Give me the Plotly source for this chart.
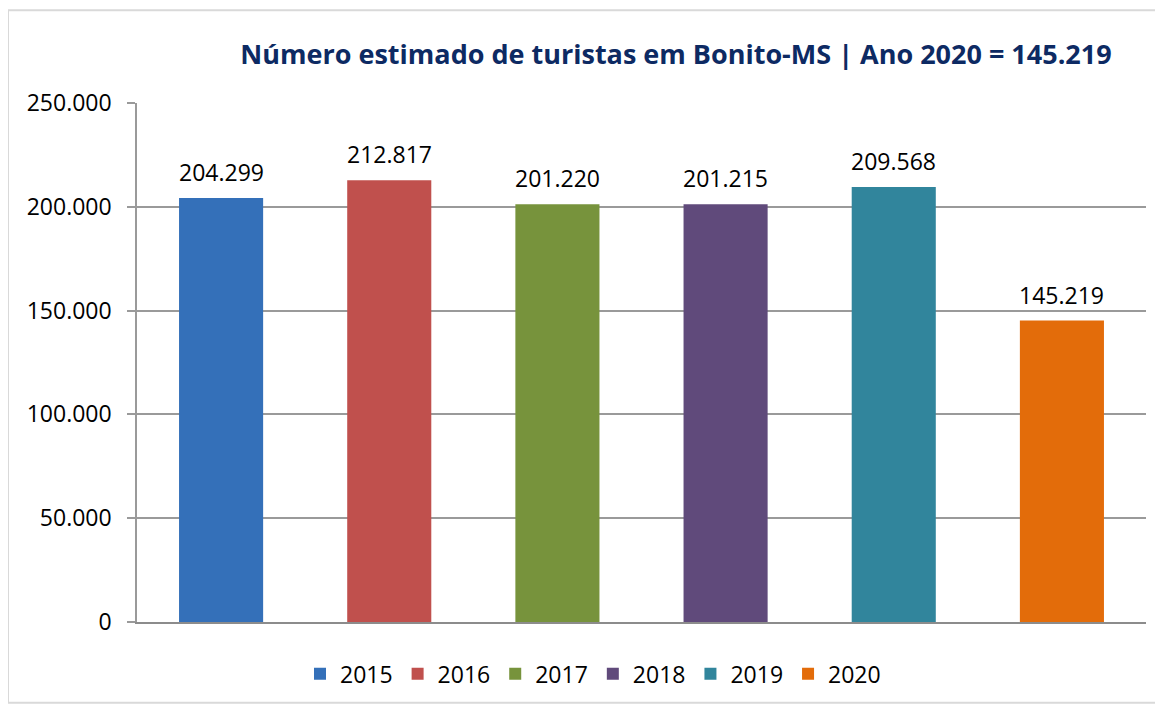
import plotly.graph_objects as go

years = ["2015", "2016", "2017", "2018", "2019", "2020"]
tourists = [204299, 212817, 201220, 201215, 209568, 145219]
colors = ["#3470b9", "#c0504d", "#77933c", "#604a7b", "#31859c", "#e36c0a"]
title_text = "Número estimado de turistas em Bonito-MS | Ano 2020 = 145.219"
tick_vals = [0, 50000, 100000, 150000, 200000, 250000]

# browser body margin offset (8px)
OFF = 8
W, H = 1163 - OFF, 707 - OFF
plot_left, plot_right, plot_top, plot_bottom = 137 - OFF, 1146 - OFF, 103 - OFF, 624 - OFF
L, R, T, B = plot_left, W - plot_right, plot_top, H - plot_bottom
pw = plot_right - plot_left
ph = plot_bottom - plot_top

fig = go.Figure()
for i, (yr, v, c) in enumerate(zip(years, tourists, colors)):
    fig.add_trace(go.Bar(
        x=[yr], y=[v], name=yr, width=0.5,
        marker=dict(color=c, line=dict(width=0)),
        hoverinfo="x+y",
    ))
    # category index i positions the label over its bar
    fig.add_annotation(
        x=i, y=v, text=f"{v:,}".replace(",", "."), showarrow=False,
        yanchor="bottom", yshift=8,
        font=dict(family="Open Sans", size=23, color="#000000"),
    )

def px_x(x):
    return (x - OFF - plot_left) / pw

def px_y(y):
    return (plot_bottom - (y - OFF)) / ph

fig.add_shape(
    type="rect", xref="paper", yref="paper", layer="below",
    x0=px_x(8), x1=px_x(1161),
    y0=px_y(705), y1=px_y(10),
    line=dict(color="#d9d9d9", width=2), fillcolor="rgba(0,0,0,0)",
)

fig.update_layout(
    width=W, height=H,
    margin=dict(l=L, r=R, t=T, b=B),
    paper_bgcolor="white", plot_bgcolor="white",
    barmode="overlay",
    separators=",.",
    title=dict(
        text="<b>" + title_text + "</b>",
        x=(676 - OFF) / W, xanchor="center", y=1 - (55 - OFF) / H, yanchor="middle",
        font=dict(family="Open Sans", size=27, color="#0d2a63"),
    ),
    legend=dict(
        orientation="h", x=px_x(300), xanchor="left",
        y=px_y(676), yanchor="middle",
        font=dict(family="Open Sans", size=23, color="#000000"),
        itemwidth=30,
        traceorder="normal",
    ),
    showlegend=True,
    xaxis=dict(
        type="category",
        showticklabels=False, showgrid=False,
        showline=True, linecolor="#8c8c8c", linewidth=2,
        ticks="", categoryorder="array", categoryarray=years,
        range=[-0.5, len(years) - 0.5],
    ),
    yaxis=dict(
        range=[0, 250000], tickvals=tick_vals, tickformat=",",
        showgrid=True, gridcolor="#9a9a9a", gridwidth=1.5,
        showline=True, linecolor="#9a9a9a", linewidth=1.5,
        ticks="outside", ticklen=8, tickcolor="#9a9a9a", tickwidth=1.5,
        ticklabelstandoff=11,
        tickfont=dict(family="Open Sans", size=23, color="#000000"),
        zeroline=False,
    ),
)

fig.write_html("out.html")
